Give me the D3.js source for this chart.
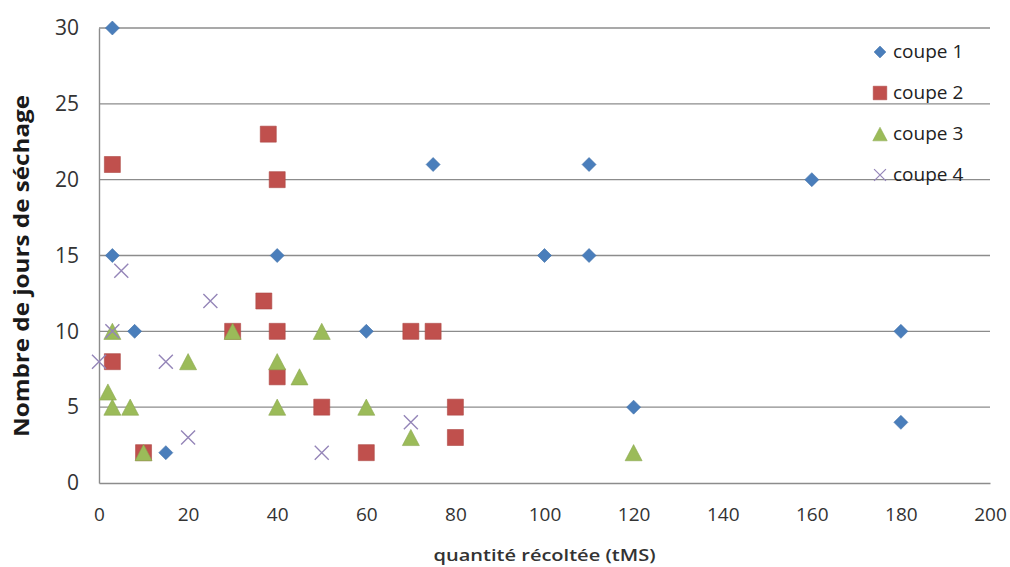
<!DOCTYPE html>
<html>
<head>
<meta charset="utf-8">
<script src="https://cdn.jsdelivr.net/npm/d3@7"></script>
<style>
  body { margin: 0; background: #fff; }
  text { font-family: "Open Sans", "Liberation Sans", sans-serif; }
</style>
</head>
<body>
<div id="chart"></div>
<script>
// données : [quantité récoltée, jours de séchage]
const coupe1 = [[3, 30], [3, 15], [8, 10], [15, 2], [40, 15], [60, 10], [75, 21], [100, 15], [110, 21], [110, 15], [120, 5], [160, 20], [180, 10], [180, 4]];
const coupe2 = [[3, 21], [3, 8], [10, 2], [30, 10], [37, 12], [38, 23], [40, 20], [40, 10], [40, 7], [50, 5], [60, 2], [70, 10], [75, 10], [80, 5], [80, 3]];
const coupe3 = [[2, 6], [3, 10], [3, 5], [7, 5], [10, 2], [20, 8], [30, 10], [40, 8], [40, 5], [45, 7], [50, 10], [60, 5], [70, 3], [120, 2]];
const coupe4 = [[0, 8], [3, 10], [5, 14], [15, 8], [20, 3], [25, 12], [50, 2], [70, 4]];
const seriesNames = ['coupe 1', 'coupe 2', 'coupe 3', 'coupe 4'];
const xTicks = [0, 20, 40, 60, 80, 100, 120, 140, 160, 180, 200];
const yTicks = [0, 5, 10, 15, 20, 25, 30];

const width = 1010;
const height = 567;
const margin = { top: 28, right: 20, bottom: 84, left: 99 };

const svg = d3
	.select('#chart')
	.append('svg')
	.attr('width', width)
	.attr('height', height);

const xScale = d3.scaleLinear().domain([0, 200]).range([margin.left, width - margin.right]);
const yScale = d3.scaleLinear().domain([0, 30]).range([height - margin.bottom, margin.top]);

// grille horizontale
svg
	.append('g')
	.selectAll('line')
	.data(yTicks.filter((d) => d > 0))
	.enter()
	.append('line')
	.attr('x1', xScale(0))
	.attr('x2', xScale(200))
	.attr('y1', (d) => yScale(d))
	.attr('y2', (d) => yScale(d))
	.attr('stroke', '#8c8c8c')
	.attr('stroke-width', 1.4);

const xAxis = d3.axisBottom(xScale).tickValues(xTicks).tickSize(0).tickPadding(25);
const yAxis = d3.axisLeft(yScale).tickValues(yTicks).tickSize(0).tickPadding(20);

const gx = svg
	.append('g')
	.attr('transform', `translate(0,${yScale(0)})`)
	.call(xAxis);
const gy = svg
	.append('g')
	.attr('transform', `translate(${xScale(0)},0)`)
	.call(yAxis);

[gx, gy].forEach((g) => {
	g.select('.domain').attr('stroke', '#8c8c8c').attr('stroke-width', 1.4);
	g.selectAll('text')
		.attr('fill', '#333')
		.style('font-family', '"Open Sans", sans-serif');
});
gx.selectAll('text').style('font-size', '19px');
gy.selectAll('text').style('font-size', '21px');

svg
	.append('text')
	.attr('x', (xScale(0) + xScale(200)) / 2)
	.attr('y', 561)
	.attr('text-anchor', 'middle')
	.attr('fill', '#333')
	.attr('textLength', 222)
	.attr('lengthAdjust', 'spacingAndGlyphs')
	.style('font-size', '17px')
	.style('font-weight', 600)
	.text('quantité récoltée (tMS)');

svg
	.append('text')
	.attr('transform', 'translate(29,266) rotate(-90)')
	.attr('text-anchor', 'middle')
	.attr('fill', '#1a1a1a')
	.attr('textLength', 342)
	.attr('lengthAdjust', 'spacingAndGlyphs')
	.style('font-size', '21px')
	.style('font-weight', 700)
	.text('Nombre de jours de séchage');

// marqueurs
const shapes = [
	(s) => `M0,${-s}L${s},0L0,${s}L${-s},0Z`,
	(s) => `M${-s},${-s}H${s}V${s}H${-s}Z`,
	(s) => `M0,${-s * 0.95}L${s},${s * 0.95}H${-s}Z`,
	(s) => `M${-s},${-s}L${s},${s}M${s},${-s}L${-s},${s}`
];
const sizes = [7, 8, 8.5, 7];
const colors = ['#4a7ebb', '#c0504d', '#9bbb59', '#9485b8'];

const drawMarker = (g, i) => {
	const p = g.append('path').attr('d', shapes[i](sizes[i]));
	if (i === 3) {
		p.attr('fill', 'none').attr('stroke', colors[i]).attr('stroke-width', 1.4);
	} else {
		p.attr('fill', colors[i]).attr('stroke', d3.color(colors[i]).darker(0.3)).attr('stroke-width', 0.6);
	}
};

[coupe1, coupe2, coupe3, coupe4].forEach((data, i) => {
	svg
		.append('g')
		.selectAll('g')
		.data(data)
		.enter()
		.append('g')
		.attr('transform', (d) => `translate(${xScale(d[0])},${yScale(d[1])})`)
		.each(function () {
			drawMarker(d3.select(this), i);
		});
});

// légende
const legend = svg.append('g').attr('transform', 'translate(880,52)');
seriesNames.forEach((name, i) => {
	const row = legend.append('g').attr('transform', `translate(0,${i * 41})`);
	drawMarker(row.append('g').attr('transform', 'scale(0.85)'), i);
	row
		.append('text')
		.attr('x', 13)
		.attr('y', 6)
		.attr('fill', '#222')
		.style('font-size', '19px')
		.text(name);
});
</script>
</body>
</html>
